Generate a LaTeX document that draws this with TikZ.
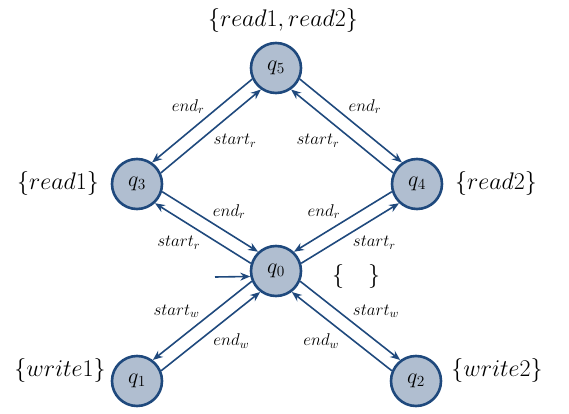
\RequirePackage{fix-cm}
\documentclass[tikz,border=0pt]{standalone}
\usetikzlibrary{arrows.meta}
\definecolor{statefill}{RGB}{176,190,208}
\definecolor{stateline}{RGB}{31,73,125}
\begin{document}
\begin{tikzpicture}[x=1pt,y=-1pt,
    state/.style={circle,draw=stateline,line width=2.6pt,fill=statefill,
      minimum size=50pt,inner sep=0pt,font=\fontsize{22}{24}\selectfont},
    setlabel/.style={font=\fontsize{24}{28}\selectfont,inner sep=0pt},
    trans/.style={draw=stateline,line width=1.6pt,-{Stealth[length=10pt,width=8pt]}},
    tlabel/.style={font=\fontsize{17}{19}\selectfont,inner sep=2pt}]
  \useasboundingbox (0,0) rectangle (569,414);
  % states
  \node[state] (q0) at (276,271) {$q_0$};
  \node[state] (q1) at (137,381) {$q_1$};
  \node[state] (q2) at (416,381) {$q_2$};
  \node[state] (q3) at (137,184) {$q_3$};
  \node[state] (q4) at (417,184) {$q_4$};
  \node[state] (q5) at (276,68) {$q_5$};
  % labelling sets
  \node[setlabel] (l5) at (283,21) {$\{read1,read2\}$};
  \node[setlabel] (l3) at (58,183) {$\{read1\}$};
  \node[setlabel] (l4) at (496,183) {$\{read2\}$};
  \node[setlabel] (l0) at (356,276) {$\{\quad\}$};
  \node[setlabel] (l1) at (60,370) {$\{write1\}$};
  \node[setlabel] (l2) at (497,370) {$\{write2\}$};
  % initial arrow
  \coordinate (init) at (215,277);
  \draw[trans] (init) -- (q0.192);
  % read transitions
  \draw[trans] (q5.205) -- node[tlabel,pos=.45,above left]{$end_r$} (q3.55);
  \draw[trans] (q3.25) -- node[tlabel,pos=.5,below right]{$start_r$} (q5.235);
  \draw[trans] (q5.335) -- node[tlabel,pos=.45,above right]{$end_r$} (q4.125);
  \draw[trans] (q4.155) -- node[tlabel,pos=.5,below left]{$start_r$} (q5.305);
  \draw[trans] (q3.-17) -- node[tlabel,pos=.5,above right]{$end_r$} (q0.133);
  \draw[trans] (q0.163) -- node[tlabel,pos=.5,below left]{$start_r$} (q3.-47);
  \draw[trans] (q4.197) -- node[tlabel,pos=.5,above left]{$end_r$} (q0.47);
  \draw[trans] (q0.17) -- node[tlabel,pos=.5,below right]{$start_r$} (q4.227);
  % write transitions
  \draw[trans] (q0.203) -- node[tlabel,pos=.5,above left]{$start_w$} (q1.53);
  \draw[trans] (q1.23) -- node[tlabel,pos=.5,below right]{$end_w$} (q0.233);
  \draw[trans] (q0.337) -- node[tlabel,pos=.5,above right]{$start_w$} (q2.127);
  \draw[trans] (q2.157) -- node[tlabel,pos=.5,below left]{$end_w$} (q0.307);
\end{tikzpicture}
\end{document}
